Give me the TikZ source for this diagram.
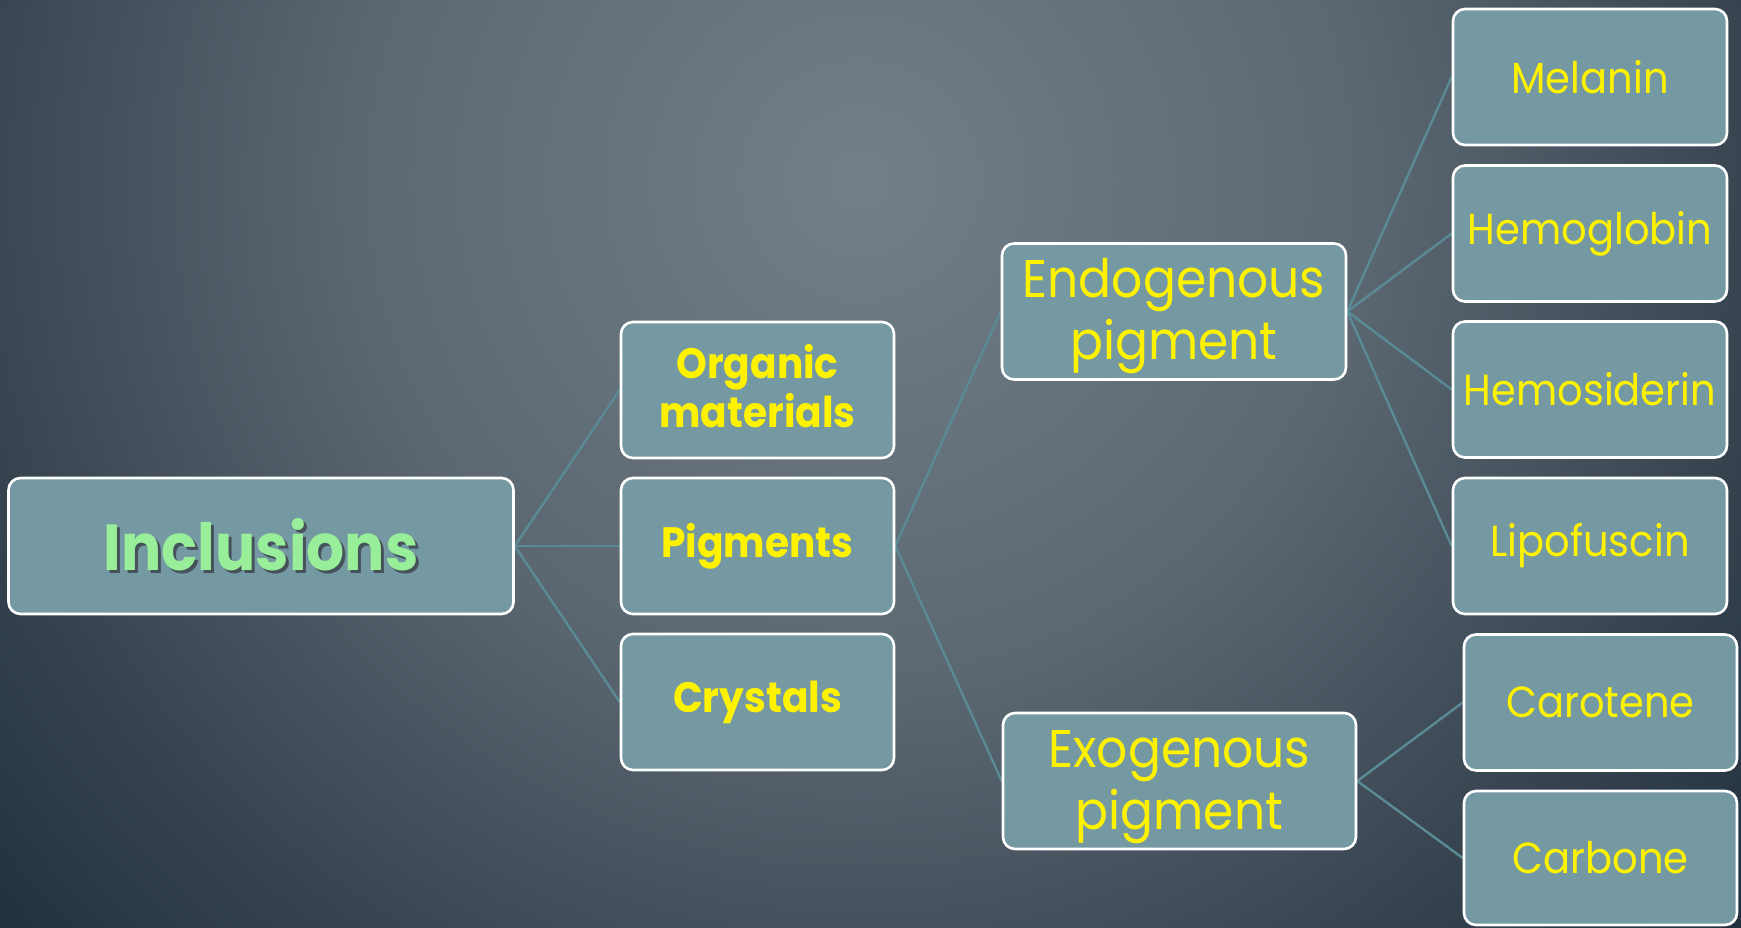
\documentclass[tikz,border=0pt]{standalone}
\usepackage{fontspec}
\newfontfamily\tw[FakeStretch=0.92]{Poppins}
\usetikzlibrary{calc}
\definecolor{boxfill}{RGB}{117,153,163}
\definecolor{linkc}{RGB}{90,138,150}
\definecolor{bgA}{RGB}{114,127,136}
\definecolor{bgB}{RGB}{91,103,113}
\definecolor{bgC}{RGB}{54,67,79}
\definecolor{bgD}{RGB}{30,43,58}
\definecolor{incgreen}{RGB}{152,238,153}
\definecolor{shadowc}{RGB}{70,82,90}
\pgfdeclareradialshading{bgshade}{\pgfpoint{0bp}{0bp}}{color(0bp)=(bgA); color(10.5bp)=(bgB); color(19bp)=(bgC); color(25bp)=(bgD); color(50bp)=(bgD)}
\pgfdeclarelayer{back}
\pgfsetlayers{back,main}
\newcommand{\twoline}[3]{\raisebox{#1}[\height][\depth]{\begin{tabular}{@{}c@{}}#2\\#3\end{tabular}}}
\tikzset{
  box/.style={draw=white, line width=2.6pt, fill=boxfill, rounded corners=12pt,
    minimum width=273pt, minimum height=136pt, inner sep=0pt, align=center,
    text=yellow, font=\tw\fontsize{43.5}{48}\selectfont},
  boldbox/.style={box, font=\tw\bfseries\fontsize{42.5}{49}\selectfont},
  midbox/.style={box, font=\tw\fontsize{53}{62}\selectfont},
  link/.style={draw=linkc, line width=2.4pt}
}
\begin{document}
\begin{tikzpicture}[x=1pt,y=-1pt]
\useasboundingbox (0,0) rectangle (1741,927);
\node[box, minimum width=505pt, font=\tw\bfseries\fontsize{65}{70}\selectfont, text=incgreen] (inc) at (261,546)
  {\makebox[0pt][l]{\raisebox{-3pt}{\hspace{3pt}\textcolor{shadowc}{Inclusions}}}Inclusions};
\node[boldbox] (org) at (757.5,390) {\twoline{-3.5pt}{Organic}{materials}};
\node[boldbox] (pig) at (757.5,546) {Pigments};
\node[boldbox] (cry) at (757.5,702) {Crystals};
\node[midbox, minimum width=344pt] (endo) at (1174,311.5) {\twoline{-5pt}{Endogenous}{pigment}};
\node[midbox, minimum width=353pt] (exo) at (1179.5,781) {\twoline{-5.5pt}{Exogenous}{pigment}};
\node[box, minimum width=274pt] (mel) at (1590,77) {Melanin};
\node[box, minimum width=274pt] (hgb) at (1590,233.5) {Hemoglobin};
\node[box, minimum width=274pt] (hsd) at (1590,389.5) {Hemosiderin};
\node[box, minimum width=274pt] (lip) at (1590,546) {Lipofuscin};
\node[box] (car) at (1600.5,702.5) {Carotene};
\node[box, minimum height=134pt] (cbn) at (1600.5,858) {Carbone};
\begin{pgfonlayer}{back}
  \begin{scope}
    \clip (0,0) rectangle (1741,927);
    \shade[shading=bgshade] (860-1200,180-1200) rectangle (860+1200,180+1200);
  \end{scope}
  \draw[link] (inc.east) -- (org.west);
  \draw[link] (inc.east) -- (pig.west);
  \draw[link] (inc.east) -- (cry.west);
  \draw[link] (pig.east) -- (endo.west);
  \draw[link] (pig.east) -- (exo.west);
  \draw[link] (endo.east) -- (mel.west);
  \draw[link] (endo.east) -- (hgb.west);
  \draw[link] (endo.east) -- (hsd.west);
  \draw[link] (endo.east) -- (lip.west);
  \draw[link] (exo.east) -- (car.west);
  \draw[link] (exo.east) -- (cbn.west);
\end{pgfonlayer}
\end{tikzpicture}
\end{document}
